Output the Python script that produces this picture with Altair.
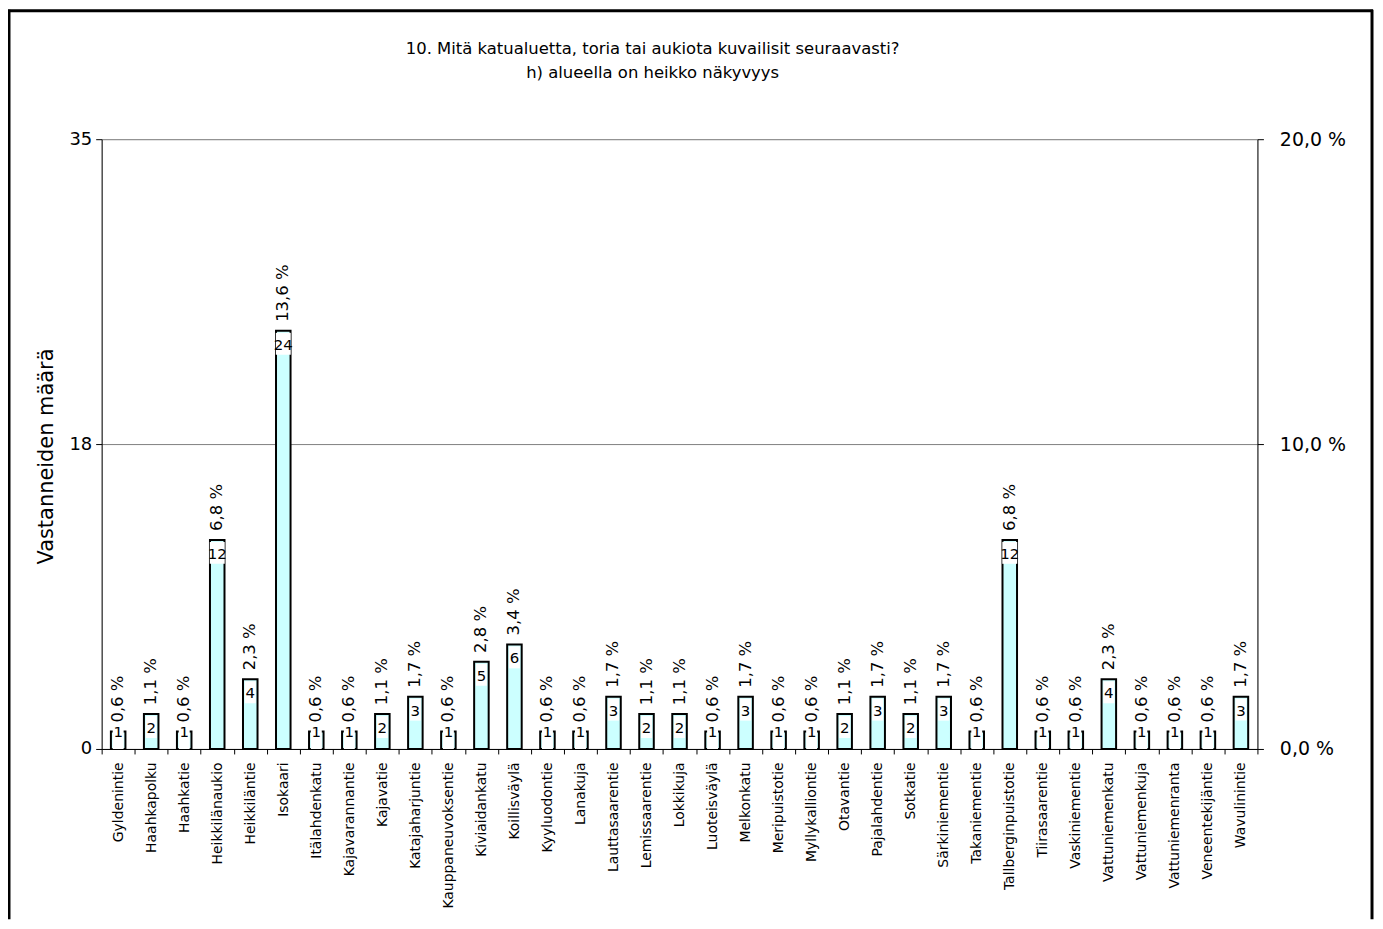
import altair as alt
import pandas as pd

streets = ["Gyldenintie", "Haahkapolku", "Haahkatie", "Heikkilänaukio", "Heikkiläntie",
           "Isokaari", "Itälahdenkatu", "Kajavarannantie", "Kajavatie", "Katajaharjuntie",
           "Kauppaneuvoksentie", "Kiviaidankatu", "Koillisväylä", "Kyyluodontie", "Lanakuja",
           "Lauttasaarentie", "Lemissaarentie", "Lokkikuja", "Luoteisväylä", "Melkonkatu",
           "Meripuistotie", "Myllykalliontie", "Otavantie", "Pajalahdentie", "Sotkatie",
           "Särkiniementie", "Takaniementie", "Tallberginpuistotie", "Tiirasaarentie",
           "Vaskiniementie", "Vattuniemenkatu", "Vattuniemenkuja", "Vattuniemenranta",
           "Veneentekijäntie", "Wavulinintie"]
counts = [1, 2, 1, 12, 4, 24, 1, 1, 2, 3, 1, 5, 6, 1, 1, 3, 2, 2, 1, 3, 1, 1, 2, 3, 2, 3, 1,
          12, 1, 1, 4, 1, 1, 1, 3]
percents = [0.6, 1.1, 0.6, 6.8, 2.3, 13.6, 0.6, 0.6, 1.1, 1.7, 0.6, 2.8, 3.4, 0.6, 0.6, 1.7,
            1.1, 1.1, 0.6, 1.7, 0.6, 0.6, 1.1, 1.7, 1.1, 1.7, 0.6, 6.8, 0.6, 0.6, 2.3, 0.6,
            0.6, 0.6, 1.7]
title_line1 = "10. Mitä katualuetta, toria tai aukiota kuvailisit seuraavasti?"
title_line2 = "h) alueella on heikko näkyvyys"
y_title = "Vastanneiden määrä"

df = pd.DataFrame({"street": streets, "count": counts, "pct": percents})

FONT = "DejaVu Sans"
W, H = 1160, 612

xenc = alt.X("street:N", sort=None, title=None,
             scale=alt.Scale(paddingInner=0, paddingOuter=0),
             axis=alt.Axis(tickBand="extent", labelAngle=270, labelFontSize=14,
                           labelFont=FONT, labelColor="black", domainColor="black",
                           tickColor="black", tickSize=5, labelPadding=8, labelLimit=300))
yscale = alt.Scale(domain=[0, 35], nice=False, zero=True)
xs = alt.X("street:N", sort=None)

base = alt.Chart(df).transform_calculate(
    pctlabel="replace(format(datum.pct, '.1f'), '.', ',') + ' %'",
    boxw="datum.count >= 10 ? 15 : 11",
    ylab="max(datum.count, 1.75)",
    ybox="max(datum.count, 1.2)",
)

bars = base.mark_bar(fill="#CCFFFF", stroke="black", strokeWidth=2,
                     width=alt.RelativeBandSize(0.44)).encode(
    x=xenc,
    y=alt.Y("count:Q", scale=yscale, title=y_title,
            axis=alt.Axis(values=[0, 17.5, 35], format=".0f", grid=True, gridColor="#808080",
                          domainColor="black", tickColor="black", tickSize=6,
                          labelFontSize=18, labelFont=FONT, labelColor="black",
                          titleFont=FONT, titleFontSize=21, titleFontWeight="normal",
                          titleColor="black", titlePadding=12, labelPadding=4,
                          titleY=318)),
)

boxes = base.mark_bar(color="white", clip=True, yOffset=2, y2Offset=24).encode(
    x=xs,
    y=alt.Y("ybox:Q", scale=yscale),
    y2=alt.Y2("ybox:Q"),
    size=alt.Size("boxw:Q", scale=None, legend=None),
)

count_text = base.mark_text(baseline="top", yOffset=7, fontSize=15, font=FONT,
                            color="black").encode(
    x=xs,
    y=alt.Y("ylab:Q", scale=yscale),
    text="count:Q",
)

pct_text = base.mark_text(angle=270, align="left", baseline="middle", dx=9, fontSize=16.5,
                          font=FONT, color="black").encode(
    x=xs,
    y=alt.Y("count:Q", scale=yscale),
    text="pctlabel:N",
)

left = alt.layer(bars, boxes, count_text, pct_text)

right = base.mark_point(opacity=0).encode(
    x=xs,
    y=alt.Y("pct:Q", scale=alt.Scale(domain=[0, 20], nice=False),
            axis=alt.Axis(orient="right", values=[0, 10, 20], grid=False,
                          labelExpr="replace(format(datum.value, '.1f'), '.', ',') + ' %'",
                          domainColor="black", tickColor="black", tickSize=6,
                          labelFontSize=19, labelFont=FONT, labelColor="black",
                          labelPadding=16, title=None)),
)

deco = alt.Chart(pd.DataFrame({"k": [0]}))
frame_top = deco.mark_rule(color="black", strokeWidth=3).encode(
    x=alt.value(-94), x2=alt.value(1276), y=alt.value(-129))
frame_left = deco.mark_rule(color="black", strokeWidth=3).encode(
    x=alt.value(-93), y=alt.value(-130), y2=alt.value(783))
frame_right = deco.mark_rule(color="black", strokeWidth=3).encode(
    x=alt.value(1275), y=alt.value(-130), y2=alt.value(783))

title1 = deco.mark_text(fontSize=16.5, font=FONT, color="black", align="center",
                        baseline="alphabetic").encode(
    x=alt.value(553), y=alt.value(-85), text=alt.value(title_line1))
title2 = deco.mark_text(fontSize=16.5, font=FONT, color="black", align="center",
                        baseline="alphabetic").encode(
    x=alt.value(553), y=alt.value(-61), text=alt.value(title_line2))

chart = alt.layer(left, right, frame_top, frame_left, frame_right, title1, title2).resolve_scale(
    y="independent"
).properties(
    width=W, height=H,
    autosize=alt.AutoSizeParams(type="none"),
    padding={"left": 94, "top": 130, "right": 118, "bottom": 171},
).configure_view(strokeWidth=0).configure(background="white")

chart.save("out.html", embed_options={"renderer": "svg", "actions": False})
